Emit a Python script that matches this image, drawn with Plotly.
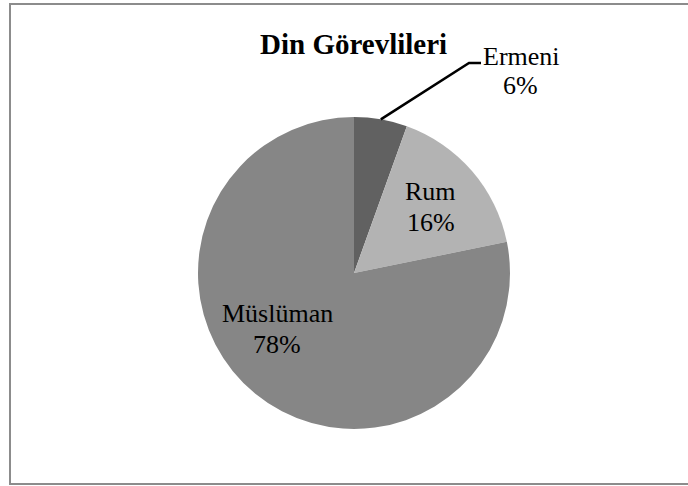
import math
import plotly.graph_objects as go

labels = ["Ermeni", "Rum", "Müslüman"]
values = [5.5, 16.3, 78.2]
colors = ["#616161", "#b3b3b3", "#868686"]
title_text = "Din Görevlileri"

W, H = 688, 486
# pie geometry in pixels
cx, cy, R = 354, 273, 156
dom_x = [(cx - R) / W, (cx + R) / W]
dom_y = [1 - (cy + R) / H, 1 - (cy - R) / H]

FONT = "Liberation Serif"
LBL = 26

def px(x):
    return x / W

def py(y):
    return 1 - y / H

tot = sum(values)
pcts = [format(v / tot * 100, ".0f") + "%" for v in values]

fig = go.Figure()
fig.add_trace(go.Pie(
    labels=labels, values=values, sort=False, direction="clockwise", rotation=0,
    marker=dict(colors=colors, line=dict(width=0)),
    textinfo="none",
    domain=dict(x=dom_x, y=dom_y),
    showlegend=False, hoverinfo="label+percent",
))

# slice mid angles (clockwise from 12 o'clock)
cum = 0
mids = []
for v in values:
    mids.append((cum + v / 2) / tot * 2 * math.pi)
    cum += v

def add_label(i, x, y):
    fig.add_annotation(x=px(x), y=py(y - 15.5), xref="paper", yref="paper",
                       xanchor="center", yanchor="middle", showarrow=False,
                       text=labels[i], font=dict(family=FONT, size=LBL, color="#000000"))
    fig.add_annotation(x=px(x), y=py(y + 15.5), xref="paper", yref="paper",
                       xanchor="center", yanchor="middle", showarrow=False,
                       text=pcts[i], font=dict(family=FONT, size=LBL, color="#000000"))

# inside labels: radius fraction and angle shift per slice (placement style)
inside = {1: (0.65, 0.0), 2: (0.61, math.radians(14.5))}
for i, (rf, shift) in inside.items():
    a = mids[i] + shift
    add_label(i, cx + rf * R * math.sin(a), cy - rf * R * math.cos(a))

# Ermeni leader line from mid-angle edge of first slice
px0 = cx + R * math.sin(mids[0])
py0 = cy - R * math.cos(mids[0])
ex, ey = 469, 63
fig.add_shape(type="path", xref="paper", yref="paper",
              path=f"M {px(px0)} {py(py0)} L {px(ex)} {py(ey)} L {px(ex + 12)} {py(ey)}",
              line=dict(color="#000000", width=2.5))
fig.add_annotation(x=px(521), y=py(57), xref="paper", yref="paper",
                   xanchor="center", yanchor="middle", showarrow=False,
                   text=labels[0], font=dict(family=FONT, size=LBL, color="#000000"))
fig.add_annotation(x=px(520), y=py(85), xref="paper", yref="paper",
                   xanchor="center", yanchor="middle", showarrow=False,
                   text=pcts[0], font=dict(family=FONT, size=LBL, color="#000000"))

fig.add_annotation(x=px(353), y=py(44), xref="paper", yref="paper",
                   xanchor="center", yanchor="middle", showarrow=False,
                   text=f"<b>{title_text}</b>",
                   font=dict(family=FONT, size=29, color="#000000"))

# chart border
fig.add_shape(type="rect", xref="paper", yref="paper",
              x0=px(10), x1=px(690), y0=py(484), y1=py(4),
              line=dict(color="#8c8c8c", width=2))

fig.update_layout(width=W, height=H, margin=dict(l=0, r=0, t=0, b=0),
                  paper_bgcolor="white", plot_bgcolor="white")
fig.write_html("out.html", config={"displayModeBar": False},
               post_script="document.body.style.margin='0';")
